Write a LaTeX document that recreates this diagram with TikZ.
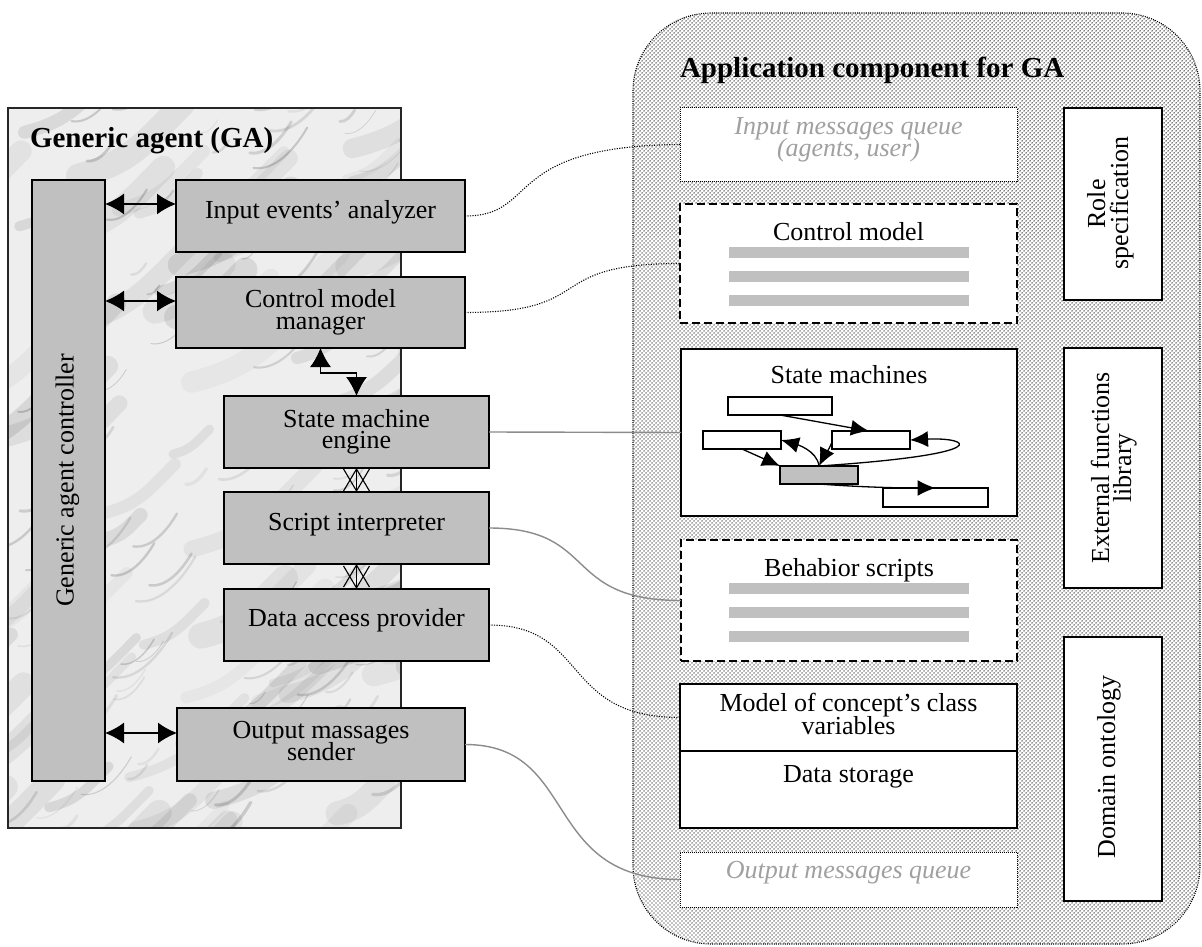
\documentclass[tikz,border=0pt]{standalone}
\usepackage{fontspec}
\setmainfont{Liberation Serif}
\usetikzlibrary{arrows.meta,patterns,calc}
\pgfdeclarepatternformonly{ptdots}{\pgfqpoint{-1pt}{-1pt}}{\pgfqpoint{3pt}{3pt}}{\pgfqpoint{4pt}{4pt}}{%
  \pgfpathcircle{\pgfqpoint{0pt}{0pt}}{.74pt}%
  \pgfpathcircle{\pgfqpoint{2pt}{2pt}}{.74pt}%
  \pgfusepath{fill}}
\definecolor{boxgray}{RGB}{192,192,192}
\definecolor{qgray}{RGB}{160,160,160}
\definecolor{linkgray}{RGB}{140,140,140}
\definecolor{marble}{RGB}{238,238,238}
\begin{document}
\begin{tikzpicture}[x=1pt,y=-1pt,
  every node/.style={inner sep=0pt, outer sep=0pt},
  gbox/.style={draw=black, line width=1.3pt, fill=boxgray},
  wbox/.style={draw=black, line width=1.3pt, fill=white},
  dotbox/.style={draw=black, line width=1pt, dash pattern=on 1pt off 1pt, fill=white},
  dashbox/.style={draw=black, line width=1.3pt, dash pattern=on 8pt off 4pt, fill=white},
  txt/.style={font=\fontsize{26}{22}\selectfont, anchor=base, text height=16pt, text depth=5pt},
  qtxt/.style={font=\fontsize{26}{22}\selectfont\itshape, text=qgray, anchor=base, text height=16pt, text depth=5pt},
  ttl/.style={font=\fontsize{29}{30}\selectfont\bfseries, anchor=base west},
  dbl/.style={>={Latex[length=19pt,width=21pt]}, <->, line width=1.6pt},
  xarr/.style={>={Straight Barb[length=22pt,width=26pt]}, <->, line width=1.1pt},
  dotlink/.style={line width=1.1pt, dash pattern=on 1.1pt off 1.4pt},
  graylink/.style={draw=linkgray, line width=1.4pt},
  smb/.style={draw=black, line width=1.3pt, fill=white},
  sma/.style={>={Latex[length=18pt,width=16pt]}, ->, line width=1.3pt},
  bar/.style={fill=boxgray}]
\useasboundingbox (0,0) rectangle (1202,947);
\fill[white] (0,0) rectangle (1202,947);

% ---------- Generic agent ----------
\node[fill=marble, minimum width=393pt, minimum height=720pt] (ga) at (204.5,468) {};
\begin{scope}
  \clip (9,109) rectangle (400,827);
  \pgfmathsetseed{23}
  \foreach \i in {1,...,90}{
    \pgfmathsetmacro{\mxa}{-60+470*rnd}
    \pgfmathsetmacro{\mya}{100+800*rnd}
    \pgfmathsetmacro{\mlen}{40+120*rnd}
    \pgfmathsetmacro{\mlw}{8+18*rnd}
    \pgfmathsetmacro{\mop}{0.03+0.07*rnd}
    \draw[black, line width=\mlw pt, opacity=\mop, line cap=round]
      (\mxa,\mya) .. controls +(0.4*\mlen,-0.1*\mlen) and +(-0.3*\mlen,0.3*\mlen) .. ++(0.8*\mlen,-0.55*\mlen);
  }
  \foreach \i in {1,...,110}{
    \pgfmathsetmacro{\mxa}{-20+430*rnd}
    \pgfmathsetmacro{\mya}{100+760*rnd}
    \pgfmathsetmacro{\mlen}{15+60*rnd}
    \pgfmathsetmacro{\mlw}{0.8+2.5*rnd}
    \pgfmathsetmacro{\mop}{0.05+0.12*rnd}
    \draw[black, line width=\mlw pt, opacity=\mop, line cap=round]
      (\mxa,\mya) .. controls +(0.3*\mlen,0.05*\mlen) and +(-0.2*\mlen,0.35*\mlen) .. ++(0.8*\mlen,-0.6*\mlen);
  }
\end{scope}
\draw[black!85, line width=1.5pt] (ga.north west) rectangle (ga.south east);
\node[ttl] (gatitle) at (30,148) {Generic agent (GA)};
\node[gbox, minimum width=73pt, minimum height=601pt] (ctrl) at (68.5,480.5) {};
\node[txt, rotate=90] (ctrltxt) at (73.5,480.5) {Generic agent controller};

\node[gbox, minimum width=289pt, minimum height=72pt] (iea) at (320.5,216) {};
\node[txt] (ieat) at (320.5,218) {Input events’ analyzer};
\node[gbox, minimum width=289pt, minimum height=71pt] (cmm) at (320.5,312.5) {};
\node[txt] (cmmt1) at (320.5,307) {Control model};
\node[txt] (cmmt2) at (320.5,329) {manager};
\node[gbox, minimum width=265pt, minimum height=72pt] (sme) at (356.5,432) {};
\node[txt] (smet1) at (356.5,427) {State machine};
\node[txt] (smet2) at (356.5,448) {engine};
\node[gbox, minimum width=265pt, minimum height=72pt] (si) at (356.5,528) {};
\node[txt] (sit) at (356.5,530) {Script interpreter};
\node[gbox, minimum width=265pt, minimum height=72pt] (dap) at (356.5,625) {};
\node[txt] (dapt) at (356.5,626) {Data access provider};
\node[gbox, minimum width=288pt, minimum height=73pt] (oms) at (321,744.5) {};
\node[txt] (omst1) at (321,738) {Output massages};
\node[txt] (omst2) at (321,760) {sender};

\draw[dbl] ($(ctrl.east |- iea.west)+(0,-12)$) -- ($(iea.west)+(0,-12)$);
\draw[dbl] ($(ctrl.east |- cmm.west)+(0,-11.5)$) -- ($(cmm.west)+(0,-11.5)$);
\draw[dbl] ($(ctrl.east |- oms.west)+(0,-11.5)$) -- ($(oms.west)+(0,-11.5)$);
\draw[dbl, line width=1.3pt] (cmm.south) -- ++(0,25) -| (sme.north);
\draw[xarr] (sme.south) -- (si.north);
\draw[xarr] (si.south) -- (dap.north);

% ---------- Application component ----------
\node[draw=black, line width=1.1pt, dash pattern=on 1pt off 1.2pt, rounded corners=78pt,
      preaction={fill=white}, pattern=ptdots, pattern color=black,
      minimum width=567pt, minimum height=931pt] (app) at (916.5,478.5) {};
\node[ttl] (apptitle) at (680,78) {Application component for GA};

\node[dotbox, minimum width=337pt, minimum height=73pt] (imq) at (848.5,144.5) {};
\node[qtxt] (imqt1) at (848.5,135) {Input messages queue};
\node[qtxt] (imqt2) at (848.5,157) {(agents, user)};

\node[dashbox, minimum width=337pt, minimum height=119pt] (cm) at (848.5,263.5) {};
\node[txt] (cmt) at (848.5,240) {Control model};
\fill[bar] (729,247) rectangle (969,258);
\fill[bar] (729,271) rectangle (969,282);
\fill[bar] (729,295) rectangle (969,306);

\node[wbox, minimum width=336pt, minimum height=167pt] (sm) at (849,432.5) {};
\node[txt] (smt) at (849,383) {State machines};
\node[smb, minimum width=104pt, minimum height=18pt] (sA) at (780,406) {};
\node[smb, minimum width=78pt, minimum height=18pt] (sB) at (742,440) {};
\node[smb, minimum width=78pt, minimum height=18pt] (sC) at (871,440) {};
\node[smb, fill=boxgray, minimum width=78pt, minimum height=18pt] (sD) at (819,475) {};
\node[smb, minimum width=105pt, minimum height=19pt] (sE) at (935.5,497.5) {};
\draw[sma] (sA.south) -- ($(sC.north)+(-2,0)$);
\draw[sma] (sB.south) -- (sD.north west);
\draw[sma] (sD.north) .. controls +(-2,-16) and +(14,4) .. (sB.east);
\draw[sma] ($(sC.west)+(0,2)$) .. controls +(-4,10) and +(4,-8) .. (sD.north);
\draw[sma] (sD.north) .. controls +(180,-12) and +(60,-3) .. (sC.east);
\draw[sma] (sD.south) .. controls +(40,3) and +(-40,0) .. (sE.north);

\node[dashbox, minimum width=336pt, minimum height=121pt] (bs) at (849,600.5) {};
\node[txt] (bst) at (849,576) {Behabior scripts};
\fill[bar] (729,583) rectangle (969,594);
\fill[bar] (729,607) rectangle (969,618);
\fill[bar] (729,631) rectangle (969,642);

\node[wbox, minimum width=337pt, minimum height=67pt] (mtop) at (848.5,717.5) {};
\node[txt] (mtopt1) at (848.5,711) {Model of concept’s class};
\node[txt] (mtopt2) at (848.5,734) {variables};
\node[wbox, minimum width=337pt, minimum height=77pt] (mbot) at (848.5,789.5) {};
\node[txt] (mbott) at (848.5,782) {Data storage};

\node[dotbox, minimum width=337pt, minimum height=55pt] (omq) at (848.5,879.5) {};
\node[qtxt] (omqt) at (848.5,878) {Output messages queue};

\node[wbox, minimum width=98pt, minimum height=192pt] (role) at (1113,204) {};
\node[txt, rotate=90] (rolet1) at (1105,204) {Role};
\node[txt, rotate=90] (rolet2) at (1128,203) {specification};
\node[wbox, minimum width=98pt, minimum height=240pt] (efl) at (1113,468) {};
\node[txt, rotate=90] (eflt1) at (1109,468) {External functions};
\node[txt, rotate=90] (eflt2) at (1131,468) {library};
\node[wbox, minimum width=98pt, minimum height=264pt] (dom) at (1113,769) {};
\node[txt, rotate=90] (domt) at (1115,767) {Domain ontology};

% ---------- links ----------
\draw[dotlink] (iea.east) .. controls +(75,0) and +(-180,1.5) .. (imq.west);
\draw[dotlink] (cmm.east) .. controls +(135,0) and +(-140,0) .. (cm.west);
\draw[graylink] (sme.east) -- (sm.west);
\draw[graylink] (si.east) .. controls +(110,0) and +(-120,0) .. (bs.west);
\draw[dotlink] (dap.east) .. controls +(100,0) and +(-120,0) .. (mtop.west);
\draw[graylink] (oms.east) .. controls +(115,0) and +(-140,0) .. (omq.west);
\end{tikzpicture}
\end{document}
